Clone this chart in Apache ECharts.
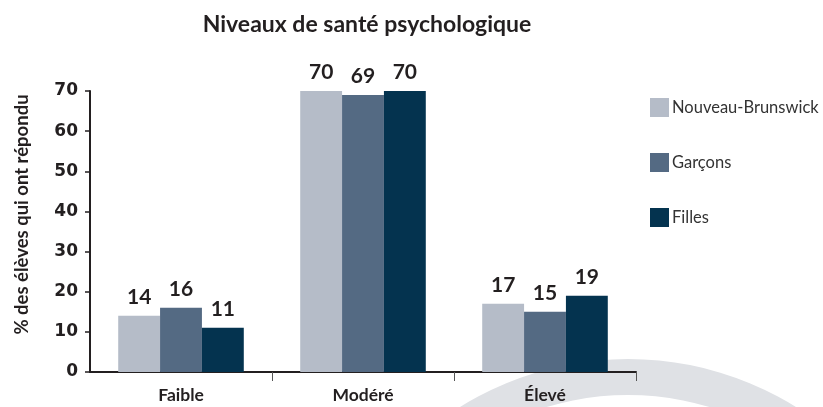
<!DOCTYPE html>
<html>
<head>
<meta charset="utf-8">
<script src="https://cdn.jsdelivr.net/npm/echarts@6/dist/echarts.min.js"></script>
<style>
  html, body { margin: 0; padding: 0; background: #fff; }
  #chart { width: 823px; height: 407px; }
</style>
</head>
<body>
<div id="chart"></div>
<script>
// categories and series
const categories = ['Faible', 'Modéré', 'Élevé']
const seriesNames = ['Nouveau-Brunswick', 'Garçons', 'Filles']
const nouveauBrunswick = [14, 70, 17]
const garcons = [16, 69, 15]
const filles = [11, 70, 19]
const yTicks = [0, 10, 20, 30, 40, 50, 60, 70]

const colors = ['#b5bcc8', '#546a83', '#04334f']
const textFont = 'Lato, "Open Sans", sans-serif'
const numFont = '"DejaVu Sans", sans-serif'
const darkText = '#231f20'

const chart = echarts.init(document.getElementById('chart'))

function makeSeries(name, data, color) {
  return {
    name: name,
    type: 'bar',
    data: data,
    barGap: '0%',
    barCategoryGap: '31%',
    itemStyle: { color: color },
    label: {
      show: true,
      position: 'top',
      distance: 8,
      color: darkText,
      fontFamily: textFont,
      fontWeight: 'bold',
      fontSize: 21,
    },
  }
}

chart.setOption({
  animation: false,
  title: {
    text: 'Niveaux de santé psychologique',
    left: 362,
    top: 8,
    textAlign: 'center',
    textStyle: {
      color: darkText,
      fontFamily: textFont,
      fontWeight: 'bold',
      fontSize: 23,
    },
  },
  legend: {
    orient: 'vertical',
    left: 650,
    top: 98,
    padding: 0,
    itemWidth: 19,
    itemHeight: 19,
    itemGap: 36,
    icon: 'rect',
    data: seriesNames,
    textStyle: {
      color: '#333',
      fontFamily: textFont,
      fontSize: 16.5,
      padding: [0, 0, 0, -2],
    },
  },
  grid: {
    left: 90,
    right: 187,
    top: 91,
    bottom: 35,
  },
  graphic: [
    {
      type: 'ring',
      silent: true,
      z: -10,
      shape: { cx: 628, cy: 677, r: 318, r0: 282 },
      style: { fill: '#dfe1e5' },
    },
  ],
  xAxis: {
    type: 'category',
    data: categories,
    axisLine: { lineStyle: { color: darkText, width: 2 } },
    axisTick: {
      show: true,
      length: 9,
      // only the dividers between groups
      interval: (idx) => idx > 0,
      lineStyle: { color: '#555', width: 1 },
    },
    axisLabel: {
      color: darkText,
      fontFamily: textFont,
      fontWeight: 'bold',
      fontSize: 17.5,
      margin: 14,
      interval: 0,
    },
  },
  yAxis: {
    type: 'value',
    min: yTicks[0],
    max: yTicks[yTicks.length - 1],
    interval: 10,
    name: '% des élèves qui ont répondu',
    nameLocation: 'middle',
    nameGap: 58,
    nameRotate: 90,
    nameTextStyle: {
      color: darkText,
      fontFamily: textFont,
      fontWeight: 'bold',
      fontSize: 18.5,
      padding: [0, 0, 0, 34],
    },
    splitLine: { show: false },
    axisLine: { show: true, lineStyle: { color: darkText, width: 2 } },
    axisTick: { show: true, length: 5, lineStyle: { color: darkText, width: 1.5 } },
    axisLabel: {
      color: darkText,
      fontFamily: numFont,
      fontWeight: 'bold',
      fontSize: 17,
      margin: 12,
    },
  },
  series: [
    makeSeries(seriesNames[0], nouveauBrunswick, colors[0]),
    makeSeries(seriesNames[1], garcons, colors[1]),
    makeSeries(seriesNames[2], filles, colors[2]),
  ],
})
</script>
</body>
</html>
